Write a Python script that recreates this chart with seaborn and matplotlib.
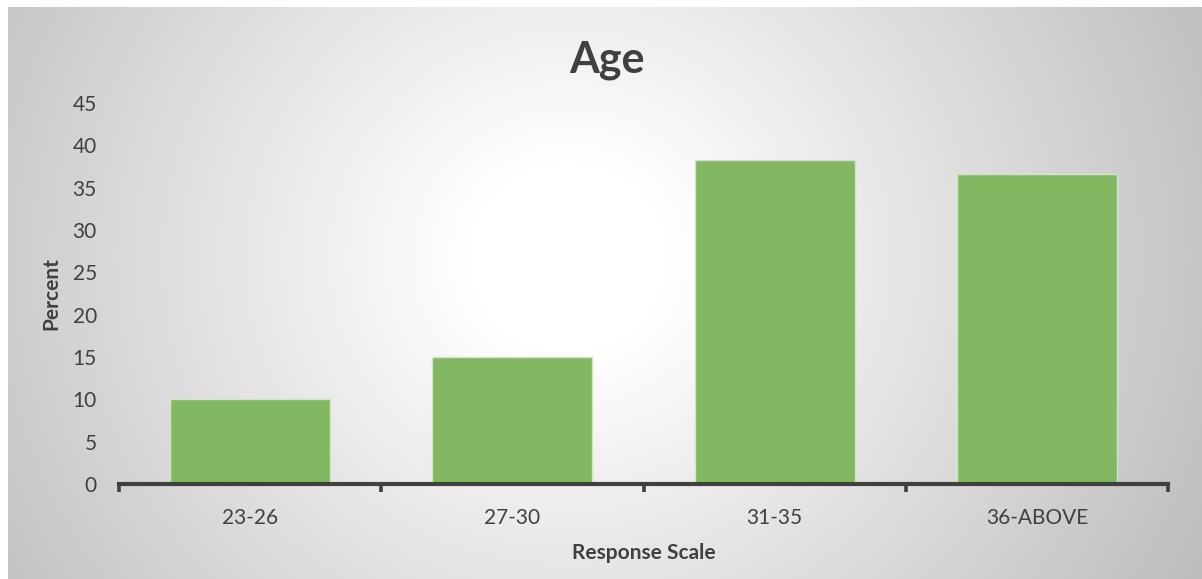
import numpy as np
import pandas as pd
import matplotlib
matplotlib.use("Agg")
import matplotlib.pyplot as plt
import seaborn as sns

# Age distribution of respondents
categories = ["23-26", "27-30", "31-35", "36-ABOVE"]
percent = [10.0, 15.0, 38.3, 36.6]
y_ticks = [0, 5, 10, 15, 20, 25, 30, 35, 40, 45]

sns.set_theme(style="white")
plt.rcParams["font.family"] = ["Lato", "DejaVu Sans"]

W, H = 1202, 579
fig = plt.figure(figsize=(W / 100, H / 100), dpi=100)
fig.patch.set_facecolor("white")

# Radial grey-to-white backdrop behind the chart area
bg = fig.add_axes([8 / W, 0, 1 - 8 / W, 1 - 7 / H])
bg.set_axis_off()
gw, gh = W - 8, H - 7
yy, xx = np.mgrid[0:gh, 0:gw]
cx, cy = 560, 250
d = np.sqrt((xx - cx) ** 2 + ((yy - cy) * 1.05) ** 2)
shade = 1 - 0.22 * np.clip((d - 100) / 520, 0, 1.2)
bg.imshow(np.dstack([shade] * 3), extent=[0, 1, 0, 1], aspect="auto",
          interpolation="bilinear", vmin=0, vmax=1)

ax = fig.add_axes([119 / W, (H - 484) / H, (1168 - 119) / W, (484 - 103) / H])
ax.set_facecolor("none")

df = pd.DataFrame({"Age": categories, "Percent": percent})
sns.barplot(data=df, x="Age", y="Percent", color="#83B862", saturation=1,
            width=0.61, edgecolor="#CFE6BF", linewidth=1.0, ax=ax, zorder=2)

ax.set_ylim(0, 45)
ax.set_xlim(-0.5, len(categories) - 0.5)
ax.set_yticks(y_ticks)

text_col = "#404040"
for s in ["left", "right", "top"]:
    ax.spines[s].set_visible(False)
ax.spines["bottom"].set_color(text_col)
ax.spines["bottom"].set_linewidth(3)
ax.spines["bottom"].set_zorder(3)

# Category separators as minor ticks hanging below the axis
ax.set_xticks(np.arange(-0.5, len(categories), 1.0), minor=True)
ax.tick_params(axis="x", which="minor", direction="out", length=6, width=2.6,
               color=text_col, bottom=True)
ax.tick_params(axis="x", which="major", length=0, pad=17, labelsize=15,
               labelcolor=text_col)
ax.tick_params(axis="y", length=0, pad=16, labelsize=15, labelcolor=text_col)

ax.set_xlabel("Response Scale", fontsize=15, fontweight="bold", color=text_col,
              labelpad=11)
ax.set_ylabel("Percent", fontsize=15, fontweight="bold", color=text_col,
              labelpad=8)

fig.text(607 / W, 1 - 60 / H, "Age", ha="center", va="center", fontsize=31,
         fontweight="bold", color=text_col)

fig.savefig("out.png", dpi=100)
